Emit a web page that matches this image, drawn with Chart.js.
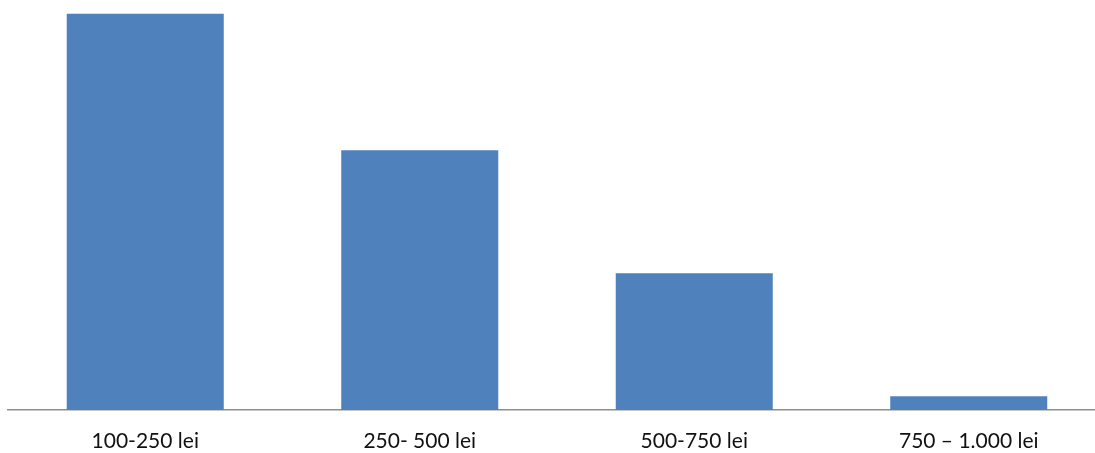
<!DOCTYPE html>
<html lang="ro">

<head>
    <meta charset="UTF-8">
    <title>Intervale lei</title>
    <script src="https://cdn.jsdelivr.net/npm/chart.js"></script>
    <style>
        html, body {
            margin: 0;
            padding: 0;
            background: #fff;
            overflow: hidden;
        }

        .wrap {
            position: relative;
            width: 1106px;
            height: 453px;
        }
    </style>
</head>

<body>
    <div class="wrap">
        <canvas id="chart"></canvas>
    </div>

    <script>
        // categorii si procente
        const categories = ['100-250 lei', '250- 500 lei', '500-750 lei', '750 \u2013 1.000 lei'];
        const values = [49.3, 32.3, 17.0, 1.7];
        const yMax = 50;

        const ctx = document.getElementById('chart').getContext('2d');
        new Chart(ctx, {
            type: 'bar',
            data: {
                labels: categories,
                datasets: [{
                    data: values,
                    backgroundColor: '#4F81BD',
                    borderWidth: 0,
                    categoryPercentage: 1,
                    barPercentage: 0.572
                }]
            },
            options: {
                responsive: true,
                maintainAspectRatio: false,
                animation: false,
                layout: {
                    padding: { top: 8, left: 8, right: 0, bottom: 0 }
                },
                plugins: {
                    legend: { display: false },
                    tooltip: { enabled: false }
                },
                scales: {
                    x: {
                        grid: { display: false, drawTicks: false },
                        border: { display: true, color: '#8e8e8e', width: 1.5 },
                        ticks: {
                            color: '#111',
                            padding: 19,
                            font: { family: 'Lato', size: 21 }
                        },
                        // inaltime fixa pentru zona etichetelor
                        afterFit: (scale) => { scale.height = 43; }
                    },
                    y: {
                        display: false,
                        min: 0,
                        max: yMax
                    }
                }
            }
        });
    </script>
</body>

</html>
